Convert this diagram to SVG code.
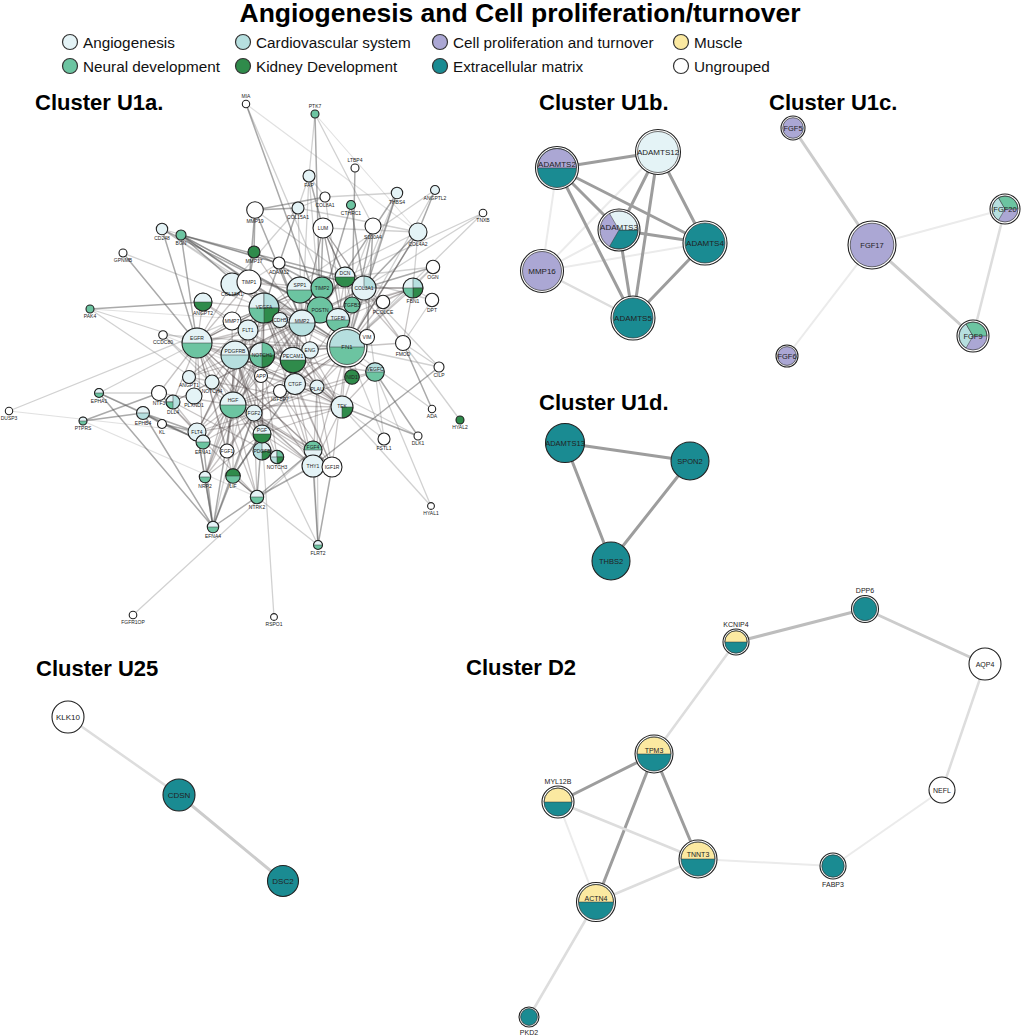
<svg xmlns="http://www.w3.org/2000/svg" width="1026" height="1035" viewBox="0 0 1026 1035">
<style>
text{font-family:"Liberation Sans",Arial,Helvetica,sans-serif;fill:#222}
.ttl{font-size:26.5px;font-weight:bold;text-anchor:middle;fill:#000}
.ct{font-size:22px;font-weight:bold;fill:#000}
.lg{font-size:15.3px;fill:#111}
.l{font-size:5px;text-anchor:middle}
.lm{font-size:8px;text-anchor:middle}
.lc{font-size:7.5px;text-anchor:middle}
.ld{font-size:7px;text-anchor:middle}
.an{fill:#e4f3f6}.cv{fill:#b6dfdf}.cp{fill:#aba7d4}.mu{fill:#fbe9a1}.nd{fill:#6cc4a1}.kd{fill:#2f8b4b}.ec{fill:#1a8b92}.ug{fill:#fff}
.s{stroke:#222;stroke-width:1.1}
.o{fill:none;stroke:#222;stroke-width:1.1}
.oi{stroke:#333;stroke-width:.7}
.nf{fill:none}
.w{stroke:#333;stroke-width:.5}
.lgc{stroke:#333;stroke-width:1.2}
line{stroke-linecap:round}
.k line{stroke:#4a3f3f;stroke-opacity:.3;stroke-width:1.3}
.m line{stroke:#555;stroke-opacity:.5;stroke-width:1.5}
.lt line{stroke:#999;stroke-opacity:.45;stroke-width:1.3}
.f line{stroke:#bbb;stroke-opacity:.45;stroke-width:1.1}
.g9{stroke:#9d9d9d;stroke-width:3}
.gb{stroke:#bdbdbd;stroke-width:3}
.gc{stroke:#cccccc;stroke-width:3}
.gd{stroke:#dddddd;stroke-width:2.5}
.ge{stroke:#ebebeb;stroke-width:2}
</style>
<defs>
<path id="ht" d="M-1 0A1 1 0 0 1 1 0Z" vector-effect="non-scaling-stroke"/>
<path id="q0" d="M0 0H1A1 1 0 0 1 0 1Z" vector-effect="non-scaling-stroke"/>
<path id="q1" d="M0 0V1A1 1 0 0 1-1 0Z" vector-effect="non-scaling-stroke"/>
<path id="q2" d="M0 0H-1A1 1 0 0 1 0-1Z" vector-effect="non-scaling-stroke"/>
<path id="q3" d="M0 0V-1A1 1 0 0 1 1 0Z" vector-effect="non-scaling-stroke"/>
<path id="t0" d="M0 0H1A1 1 0 0 1-.5 .866Z" vector-effect="non-scaling-stroke"/>
<path id="t1" d="M0 0L-.5 .866A1 1 0 0 1-.5-.866Z" vector-effect="non-scaling-stroke"/>
<path id="t2" d="M0 0L-.5-.866A1 1 0 0 1 1 0Z" vector-effect="non-scaling-stroke"/>
</defs>
<rect width="1026" height="1035" fill="#fff"/>
<text class="ttl" x="520" y="22">Angiogenesis and Cell proliferation/turnover</text>
<g id="legend">
<circle cx="70" cy="42" r="7.5" class="an lgc"/><text class="lg" x="83" y="47.5">Angiogenesis</text>
<circle cx="243" cy="42" r="7.5" class="cv lgc"/><text class="lg" x="256" y="47.5">Cardiovascular system</text>
<circle cx="440" cy="42" r="7.5" class="cp lgc"/><text class="lg" x="453" y="47.5">Cell proliferation and turnover</text>
<circle cx="681" cy="42" r="7.5" class="mu lgc"/><text class="lg" x="694" y="47.5">Muscle</text>
<circle cx="70" cy="66" r="7.5" class="nd lgc"/><text class="lg" x="83" y="71.5">Neural development</text>
<circle cx="243" cy="66" r="7.5" class="kd lgc"/><text class="lg" x="256" y="71.5">Kidney Development</text>
<circle cx="440" cy="66" r="7.5" class="ec lgc"/><text class="lg" x="453" y="71.5">Extracellular matrix</text>
<circle cx="681" cy="66" r="7.5" class="ug lgc"/><text class="lg" x="694" y="71.5">Ungrouped</text>
</g>
<g id="cluster-titles">
<text class="ct" x="35" y="110">Cluster U1a.</text>
<text class="ct" x="539" y="110">Cluster U1b.</text>
<text class="ct" x="769" y="110">Cluster U1c.</text>
<text class="ct" x="539" y="410">Cluster U1d.</text>
<text class="ct" x="36" y="676">Cluster U25</text>
<text class="ct" x="466" y="675">Cluster D2</text>
</g>
<g id="connectors">
<g class="f">
<line x1="9" y1="411" x2="197" y2="432"/><line x1="246" y1="104" x2="418" y2="232"/><line x1="315" y1="114" x2="418" y2="232"/><line x1="83" y1="421" x2="257" y2="497"/><line x1="163" y1="335" x2="342" y2="407"/><line x1="90" y1="309" x2="302" y2="323"/>
</g>
<g class="lt">
<line x1="246" y1="104" x2="338" y2="320"/><line x1="315" y1="114" x2="309" y2="176"/><line x1="315" y1="114" x2="373" y2="226"/><line x1="325" y1="197" x2="397" y2="193"/><line x1="325" y1="197" x2="347" y2="347"/><line x1="325" y1="197" x2="298" y2="208"/><line x1="309" y1="176" x2="325" y2="197"/><line x1="309" y1="176" x2="302" y2="323"/><line x1="309" y1="176" x2="298" y2="208"/><line x1="309" y1="176" x2="320" y2="310"/><line x1="162" y1="229" x2="364" y2="288"/><line x1="162" y1="229" x2="347" y2="347"/><line x1="162" y1="229" x2="302" y2="323"/><line x1="181" y1="235" x2="338" y2="320"/><line x1="123" y1="253" x2="302" y2="323"/><line x1="90" y1="309" x2="197" y2="343"/><line x1="90" y1="309" x2="233" y2="405"/><line x1="163" y1="335" x2="347" y2="347"/><line x1="163" y1="335" x2="233" y2="405"/><line x1="163" y1="335" x2="313" y2="466"/><line x1="9" y1="411" x2="264" y2="308"/><line x1="99" y1="393" x2="264" y2="308"/><line x1="99" y1="393" x2="159" y2="393"/><line x1="99" y1="393" x2="203" y2="442"/><line x1="318" y1="545" x2="257" y2="497"/><line x1="318" y1="545" x2="313" y2="450"/><line x1="318" y1="545" x2="317" y2="387"/><line x1="318" y1="545" x2="254" y2="413"/><line x1="274" y1="617" x2="262" y2="434"/><line x1="133" y1="615" x2="313" y2="450"/><line x1="431" y1="506" x2="342" y2="407"/><line x1="431" y1="506" x2="375" y2="372"/><line x1="418" y1="436" x2="262" y2="355"/><line x1="384" y1="439" x2="347" y2="347"/><line x1="384" y1="439" x2="342" y2="407"/><line x1="384" y1="439" x2="364" y2="288"/><line x1="432" y1="409" x2="347" y2="347"/><line x1="460" y1="420" x2="403" y2="343"/><line x1="439" y1="367" x2="403" y2="343"/><line x1="439" y1="367" x2="364" y2="288"/><line x1="439" y1="367" x2="347" y2="347"/><line x1="433" y1="267" x2="413" y2="288"/><line x1="433" y1="267" x2="345" y2="277"/><line x1="433" y1="267" x2="347" y2="347"/><line x1="432" y1="300" x2="413" y2="288"/><line x1="432" y1="300" x2="345" y2="277"/><line x1="432" y1="300" x2="403" y2="343"/><line x1="483" y1="213" x2="347" y2="347"/><line x1="483" y1="213" x2="364" y2="288"/><line x1="483" y1="213" x2="345" y2="277"/><line x1="435" y1="190" x2="347" y2="347"/><line x1="435" y1="190" x2="264" y2="308"/><line x1="397" y1="193" x2="364" y2="288"/><line x1="397" y1="193" x2="352" y2="305"/><line x1="418" y1="232" x2="298" y2="208"/><line x1="418" y1="232" x2="413" y2="288"/><line x1="418" y1="232" x2="264" y2="308"/><line x1="418" y1="232" x2="323" y2="228"/><line x1="373" y1="226" x2="338" y2="320"/><line x1="323" y1="228" x2="364" y2="288"/><line x1="323" y1="228" x2="347" y2="347"/><line x1="323" y1="228" x2="302" y2="323"/><line x1="298" y1="208" x2="232" y2="284"/><line x1="298" y1="208" x2="302" y2="323"/><line x1="255" y1="210" x2="364" y2="288"/><line x1="279" y1="263" x2="249" y2="282"/><line x1="213" y1="527" x2="264" y2="308"/>
</g>
<g class="m">
<line x1="246" y1="104" x2="320" y2="310"/><line x1="315" y1="114" x2="320" y2="310"/><line x1="355" y1="168" x2="352" y2="305"/><line x1="123" y1="253" x2="197" y2="343"/><line x1="90" y1="309" x2="203" y2="302"/><line x1="99" y1="393" x2="143" y2="413"/><line x1="99" y1="393" x2="213" y2="527"/><line x1="83" y1="421" x2="159" y2="393"/><line x1="83" y1="421" x2="143" y2="413"/><line x1="143" y1="413" x2="213" y2="527"/><line x1="143" y1="413" x2="197" y2="432"/><line x1="143" y1="413" x2="162" y2="424"/><line x1="143" y1="413" x2="203" y2="442"/><line x1="162" y1="424" x2="197" y2="432"/><line x1="162" y1="424" x2="227" y2="451"/><line x1="213" y1="527" x2="205" y2="477"/><line x1="213" y1="527" x2="233" y2="476"/><line x1="213" y1="527" x2="257" y2="497"/><line x1="213" y1="527" x2="197" y2="432"/><line x1="213" y1="527" x2="233" y2="405"/><line x1="213" y1="527" x2="254" y2="413"/><line x1="213" y1="527" x2="203" y2="442"/><line x1="233" y1="476" x2="257" y2="497"/><line x1="233" y1="476" x2="262" y2="434"/><line x1="233" y1="476" x2="295" y2="384"/><line x1="257" y1="497" x2="313" y2="466"/><line x1="257" y1="497" x2="313" y2="450"/><line x1="257" y1="497" x2="262" y2="434"/><line x1="318" y1="545" x2="313" y2="466"/><line x1="318" y1="545" x2="332" y2="467"/><line x1="418" y1="436" x2="342" y2="407"/><line x1="418" y1="436" x2="375" y2="372"/><line x1="432" y1="409" x2="403" y2="343"/><line x1="439" y1="367" x2="313" y2="466"/><line x1="433" y1="267" x2="364" y2="288"/><line x1="397" y1="193" x2="347" y2="347"/><line x1="397" y1="193" x2="320" y2="310"/><line x1="435" y1="190" x2="418" y2="232"/><line x1="418" y1="232" x2="347" y2="347"/><line x1="418" y1="232" x2="364" y2="288"/><line x1="373" y1="226" x2="347" y2="347"/><line x1="373" y1="226" x2="367" y2="337"/><line x1="323" y1="228" x2="345" y2="277"/><line x1="323" y1="228" x2="320" y2="310"/><line x1="309" y1="176" x2="323" y2="228"/><line x1="325" y1="197" x2="255" y2="210"/><line x1="298" y1="208" x2="255" y2="210"/><line x1="298" y1="208" x2="264" y2="308"/><line x1="255" y1="210" x2="254" y2="252"/><line x1="255" y1="210" x2="302" y2="323"/><line x1="255" y1="210" x2="249" y2="282"/><line x1="254" y1="252" x2="249" y2="282"/><line x1="254" y1="252" x2="322" y2="288"/><line x1="279" y1="263" x2="302" y2="323"/><line x1="279" y1="263" x2="347" y2="347"/><line x1="181" y1="235" x2="345" y2="277"/><line x1="181" y1="235" x2="320" y2="310"/><line x1="181" y1="235" x2="364" y2="288"/><line x1="181" y1="235" x2="347" y2="347"/><line x1="181" y1="235" x2="264" y2="308"/><line x1="181" y1="235" x2="197" y2="343"/><line x1="181" y1="235" x2="249" y2="282"/><line x1="162" y1="229" x2="197" y2="343"/><line x1="162" y1="229" x2="320" y2="310"/><line x1="351" y1="205" x2="320" y2="310"/><line x1="351" y1="205" x2="364" y2="288"/>
</g>
<g class="k">
<line x1="264" y1="308" x2="248" y2="330"/><line x1="264" y1="308" x2="197" y2="432"/><line x1="264" y1="308" x2="197" y2="343"/><line x1="264" y1="308" x2="235" y2="355"/><line x1="264" y1="308" x2="262" y2="355"/><line x1="264" y1="308" x2="302" y2="323"/><line x1="264" y1="308" x2="347" y2="347"/><line x1="264" y1="308" x2="293" y2="360"/><line x1="264" y1="308" x2="233" y2="405"/><line x1="264" y1="308" x2="254" y2="413"/><line x1="264" y1="308" x2="262" y2="434"/><line x1="264" y1="308" x2="295" y2="384"/><line x1="264" y1="308" x2="342" y2="407"/><line x1="264" y1="308" x2="310" y2="350"/><line x1="264" y1="308" x2="280" y2="320"/><line x1="264" y1="308" x2="300" y2="290"/><line x1="264" y1="308" x2="249" y2="282"/><line x1="264" y1="308" x2="203" y2="302"/><line x1="264" y1="308" x2="189" y2="377"/><line x1="264" y1="308" x2="205" y2="477"/><line x1="264" y1="308" x2="313" y2="466"/><line x1="264" y1="308" x2="375" y2="372"/><line x1="264" y1="308" x2="317" y2="387"/><line x1="264" y1="308" x2="262" y2="451"/><line x1="264" y1="308" x2="332" y2="467"/><line x1="264" y1="308" x2="212" y2="382"/><line x1="264" y1="308" x2="320" y2="310"/><line x1="264" y1="308" x2="322" y2="288"/><line x1="264" y1="308" x2="232" y2="321"/>
<line x1="347" y1="347" x2="338" y2="320"/><line x1="347" y1="347" x2="320" y2="310"/><line x1="347" y1="347" x2="364" y2="288"/><line x1="347" y1="347" x2="345" y2="277"/><line x1="347" y1="347" x2="322" y2="288"/><line x1="347" y1="347" x2="300" y2="290"/><line x1="347" y1="347" x2="302" y2="323"/><line x1="347" y1="347" x2="367" y2="337"/><line x1="347" y1="347" x2="403" y2="343"/><line x1="347" y1="347" x2="413" y2="288"/><line x1="347" y1="347" x2="295" y2="384"/><line x1="347" y1="347" x2="317" y2="387"/><line x1="347" y1="347" x2="313" y2="466"/><line x1="347" y1="347" x2="197" y2="343"/><line x1="347" y1="347" x2="235" y2="355"/><line x1="347" y1="347" x2="249" y2="282"/><line x1="347" y1="347" x2="332" y2="467"/><line x1="347" y1="347" x2="233" y2="405"/><line x1="347" y1="347" x2="310" y2="350"/><line x1="347" y1="347" x2="342" y2="407"/><line x1="347" y1="347" x2="352" y2="377"/><line x1="347" y1="347" x2="232" y2="284"/><line x1="347" y1="347" x2="323" y2="228"/><line x1="347" y1="347" x2="418" y2="232"/><line x1="347" y1="347" x2="254" y2="413"/><line x1="347" y1="347" x2="261" y2="376"/><line x1="347" y1="347" x2="383" y2="302"/><line x1="347" y1="347" x2="352" y2="305"/>
<line x1="302" y1="323" x2="249" y2="282"/><line x1="302" y1="323" x2="322" y2="288"/><line x1="302" y1="323" x2="300" y2="290"/><line x1="302" y1="323" x2="345" y2="277"/><line x1="302" y1="323" x2="364" y2="288"/><line x1="302" y1="323" x2="295" y2="384"/><line x1="302" y1="323" x2="317" y2="387"/><line x1="302" y1="323" x2="232" y2="321"/><line x1="302" y1="323" x2="197" y2="343"/><line x1="302" y1="323" x2="235" y2="355"/><line x1="302" y1="323" x2="293" y2="360"/><line x1="302" y1="323" x2="261" y2="376"/><line x1="302" y1="323" x2="233" y2="405"/><line x1="302" y1="323" x2="254" y2="413"/><line x1="302" y1="323" x2="232" y2="284"/><line x1="302" y1="323" x2="413" y2="288"/><line x1="302" y1="323" x2="323" y2="228"/><line x1="302" y1="323" x2="254" y2="252"/><line x1="302" y1="323" x2="338" y2="320"/><line x1="302" y1="323" x2="280" y2="391"/><line x1="302" y1="323" x2="262" y2="355"/>
<line x1="197" y1="343" x2="233" y2="405"/><line x1="197" y1="343" x2="254" y2="413"/><line x1="197" y1="343" x2="235" y2="355"/><line x1="197" y1="343" x2="159" y2="393"/><line x1="197" y1="343" x2="203" y2="442"/><line x1="197" y1="343" x2="227" y2="451"/><line x1="197" y1="343" x2="313" y2="450"/><line x1="197" y1="343" x2="332" y2="467"/><line x1="197" y1="343" x2="295" y2="384"/><line x1="197" y1="343" x2="317" y2="387"/><line x1="197" y1="343" x2="261" y2="376"/><line x1="197" y1="343" x2="262" y2="355"/><line x1="197" y1="343" x2="249" y2="282"/><line x1="197" y1="343" x2="300" y2="290"/><line x1="197" y1="343" x2="203" y2="302"/><line x1="197" y1="343" x2="194" y2="396"/><line x1="197" y1="343" x2="173" y2="402"/><line x1="197" y1="343" x2="257" y2="497"/><line x1="197" y1="343" x2="233" y2="476"/><line x1="197" y1="343" x2="262" y2="434"/><line x1="197" y1="343" x2="248" y2="330"/><line x1="197" y1="343" x2="232" y2="321"/><line x1="197" y1="343" x2="232" y2="284"/>
<line x1="235" y1="355" x2="262" y2="451"/><line x1="235" y1="355" x2="262" y2="434"/><line x1="235" y1="355" x2="254" y2="413"/><line x1="235" y1="355" x2="233" y2="405"/><line x1="235" y1="355" x2="248" y2="330"/><line x1="235" y1="355" x2="197" y2="432"/><line x1="235" y1="355" x2="295" y2="384"/><line x1="235" y1="355" x2="313" y2="466"/><line x1="235" y1="355" x2="277" y2="457"/><line x1="235" y1="355" x2="262" y2="355"/><line x1="235" y1="355" x2="293" y2="360"/><line x1="235" y1="355" x2="342" y2="407"/><line x1="235" y1="355" x2="189" y2="377"/><line x1="235" y1="355" x2="364" y2="288"/><line x1="235" y1="355" x2="320" y2="310"/><line x1="235" y1="355" x2="227" y2="451"/><line x1="235" y1="355" x2="280" y2="391"/><line x1="235" y1="355" x2="300" y2="290"/>
<line x1="233" y1="405" x2="254" y2="413"/><line x1="233" y1="405" x2="227" y2="451"/><line x1="233" y1="405" x2="313" y2="450"/><line x1="233" y1="405" x2="262" y2="434"/><line x1="233" y1="405" x2="262" y2="451"/><line x1="233" y1="405" x2="313" y2="466"/><line x1="233" y1="405" x2="332" y2="467"/><line x1="233" y1="405" x2="295" y2="384"/><line x1="233" y1="405" x2="317" y2="387"/><line x1="233" y1="405" x2="257" y2="497"/><line x1="233" y1="405" x2="233" y2="476"/><line x1="233" y1="405" x2="342" y2="407"/><line x1="233" y1="405" x2="159" y2="393"/><line x1="233" y1="405" x2="203" y2="442"/><line x1="233" y1="405" x2="197" y2="432"/><line x1="233" y1="405" x2="205" y2="477"/><line x1="233" y1="405" x2="262" y2="355"/><line x1="233" y1="405" x2="248" y2="330"/><line x1="233" y1="405" x2="232" y2="321"/><line x1="233" y1="405" x2="261" y2="376"/>
<line x1="262" y1="355" x2="277" y2="457"/><line x1="262" y1="355" x2="212" y2="382"/><line x1="262" y1="355" x2="173" y2="402"/><line x1="262" y1="355" x2="293" y2="360"/><line x1="262" y1="355" x2="280" y2="320"/><line x1="262" y1="355" x2="197" y2="432"/><line x1="262" y1="355" x2="248" y2="330"/><line x1="262" y1="355" x2="203" y2="442"/><line x1="262" y1="355" x2="189" y2="377"/><line x1="262" y1="355" x2="342" y2="407"/><line x1="262" y1="355" x2="205" y2="477"/><line x1="262" y1="355" x2="261" y2="376"/><line x1="262" y1="355" x2="310" y2="350"/>
<line x1="342" y1="407" x2="189" y2="377"/><line x1="342" y1="407" x2="203" y2="302"/><line x1="342" y1="407" x2="293" y2="360"/><line x1="342" y1="407" x2="310" y2="350"/><line x1="342" y1="407" x2="280" y2="320"/><line x1="342" y1="407" x2="248" y2="330"/><line x1="342" y1="407" x2="197" y2="432"/><line x1="342" y1="407" x2="375" y2="372"/><line x1="342" y1="407" x2="352" y2="377"/><line x1="342" y1="407" x2="262" y2="434"/><line x1="342" y1="407" x2="313" y2="466"/><line x1="342" y1="407" x2="295" y2="384"/><line x1="342" y1="407" x2="317" y2="387"/>
<line x1="248" y1="330" x2="197" y2="432"/><line x1="248" y1="330" x2="262" y2="434"/><line x1="248" y1="330" x2="205" y2="477"/><line x1="248" y1="330" x2="293" y2="360"/><line x1="248" y1="330" x2="280" y2="320"/><line x1="248" y1="330" x2="203" y2="302"/><line x1="197" y1="432" x2="375" y2="372"/><line x1="197" y1="432" x2="205" y2="477"/><line x1="197" y1="432" x2="159" y2="393"/><line x1="197" y1="432" x2="173" y2="402"/><line x1="262" y1="434" x2="205" y2="477"/><line x1="262" y1="434" x2="254" y2="413"/><line x1="262" y1="434" x2="313" y2="466"/><line x1="254" y1="413" x2="227" y2="451"/><line x1="254" y1="413" x2="313" y2="450"/><line x1="254" y1="413" x2="313" y2="466"/><line x1="254" y1="413" x2="332" y2="467"/><line x1="254" y1="413" x2="295" y2="384"/><line x1="254" y1="413" x2="317" y2="387"/><line x1="254" y1="413" x2="257" y2="497"/><line x1="254" y1="413" x2="233" y2="476"/><line x1="254" y1="413" x2="205" y2="477"/><line x1="254" y1="413" x2="203" y2="442"/><line x1="295" y1="384" x2="317" y2="387"/><line x1="295" y1="384" x2="313" y2="466"/><line x1="295" y1="384" x2="332" y2="467"/><line x1="295" y1="384" x2="249" y2="282"/><line x1="295" y1="384" x2="300" y2="290"/><line x1="295" y1="384" x2="320" y2="310"/><line x1="295" y1="384" x2="338" y2="320"/><line x1="317" y1="387" x2="332" y2="467"/><line x1="317" y1="387" x2="313" y2="466"/><line x1="317" y1="387" x2="249" y2="282"/><line x1="300" y1="290" x2="249" y2="282"/><line x1="300" y1="290" x2="320" y2="310"/><line x1="300" y1="290" x2="322" y2="288"/><line x1="320" y1="310" x2="322" y2="288"/><line x1="320" y1="310" x2="338" y2="320"/><line x1="320" y1="310" x2="345" y2="277"/><line x1="320" y1="310" x2="364" y2="288"/><line x1="345" y1="277" x2="364" y2="288"/><line x1="345" y1="277" x2="338" y2="320"/><line x1="364" y1="288" x2="338" y2="320"/><line x1="364" y1="288" x2="413" y2="288"/><line x1="364" y1="288" x2="323" y2="228"/><line x1="345" y1="277" x2="323" y2="228"/><line x1="249" y1="282" x2="322" y2="288"/><line x1="249" y1="282" x2="232" y2="321"/><line x1="293" y1="360" x2="310" y2="350"/><line x1="293" y1="360" x2="280" y2="320"/><line x1="310" y1="350" x2="280" y2="320"/><line x1="277" y1="457" x2="262" y2="451"/><line x1="277" y1="457" x2="212" y2="382"/><line x1="173" y1="402" x2="212" y2="382"/><line x1="173" y1="402" x2="277" y2="457"/><line x1="313" y1="466" x2="332" y2="467"/><line x1="313" y1="450" x2="332" y2="467"/><line x1="257" y1="497" x2="159" y2="393"/><line x1="257" y1="497" x2="233" y2="476"/><line x1="261" y1="376" x2="295" y2="384"/><line x1="261" y1="376" x2="280" y2="391"/><line x1="280" y1="391" x2="332" y2="467"/><line x1="280" y1="391" x2="313" y2="466"/><line x1="375" y1="372" x2="352" y2="377"/><line x1="375" y1="372" x2="293" y2="360"/><line x1="352" y1="377" x2="317" y2="387"/><line x1="403" y1="343" x2="345" y2="277"/><line x1="403" y1="343" x2="364" y2="288"/><line x1="403" y1="343" x2="413" y2="288"/><line x1="367" y1="337" x2="338" y2="320"/><line x1="367" y1="337" x2="295" y2="384"/><line x1="367" y1="337" x2="317" y2="387"/><line x1="383" y1="302" x2="364" y2="288"/><line x1="383" y1="302" x2="413" y2="288"/><line x1="352" y1="305" x2="320" y2="310"/><line x1="352" y1="305" x2="413" y2="288"/><line x1="352" y1="305" x2="338" y2="320"/><line x1="352" y1="305" x2="345" y2="277"/><line x1="413" y1="288" x2="338" y2="320"/><line x1="413" y1="288" x2="322" y2="288"/>
</g>
<g id="edges-u1b">
<line class="ge" x1="557" y1="168" x2="542" y2="271"/><line class="ge" x1="658" y1="152" x2="542" y2="271"/><line class="ge" x1="619" y1="230" x2="542" y2="271"/><line class="ge" x1="705" y1="243" x2="542" y2="271"/><line class="gd" x1="542" y1="271" x2="633" y2="318"/>
<line class="g9" x1="557" y1="168" x2="658" y2="152"/><line class="g9" x1="557" y1="168" x2="619" y2="230"/><line class="g9" x1="557" y1="168" x2="705" y2="243"/><line class="g9" x1="557" y1="168" x2="633" y2="318"/><line class="g9" x1="658" y1="152" x2="619" y2="230"/><line class="g9" x1="658" y1="152" x2="705" y2="243"/><line class="g9" x1="658" y1="152" x2="633" y2="318"/><line class="g9" x1="619" y1="230" x2="705" y2="243"/><line class="g9" x1="619" y1="230" x2="633" y2="318"/><line class="g9" x1="705" y1="243" x2="633" y2="318"/>
</g>
<g id="edges-u1c">
<line class="gc" x1="793" y1="128" x2="872" y2="245"/><line class="ge" x1="872" y1="245" x2="1005" y2="209"/><line class="gc" x1="872" y1="245" x2="973" y2="336"/><line class="ge" x1="872" y1="245" x2="787" y2="356"/><line class="gd" x1="1005" y1="209" x2="973" y2="336"/>
</g>
<g id="edges-u1d">
<line class="g9" x1="565" y1="443" x2="690" y2="461"/><line class="g9" x1="565" y1="443" x2="611" y2="561"/><line class="g9" x1="690" y1="461" x2="611" y2="561"/>
</g>
<g id="edges-u25">
<line class="gd" x1="68" y1="717" x2="179" y2="795"/><line class="gc" x1="179" y1="795" x2="283" y2="881"/>
</g>
<g id="edges-d2">
<line class="gb" x1="736" y1="642" x2="865" y2="609"/><line class="gc" x1="865" y1="609" x2="985" y2="664"/><line class="gd" x1="985" y1="664" x2="942" y2="790"/><line class="ge" x1="942" y1="790" x2="833" y2="866"/><line class="gd" x1="736" y1="642" x2="654" y2="754"/><line class="g9" x1="654" y1="754" x2="558" y2="802"/><line class="g9" x1="654" y1="754" x2="698" y2="859"/><line class="g9" x1="654" y1="754" x2="596" y2="902"/><line class="gd" x1="558" y1="802" x2="698" y2="859"/><line class="ge" x1="558" y1="802" x2="596" y2="902"/><line class="gd" x1="698" y1="859" x2="596" y2="902"/><line class="ge" x1="698" y1="859" x2="833" y2="866"/><line class="gd" x1="596" y1="902" x2="529" y2="1017"/>
</g>
</g>
<g id="nodes">
<g id="n-MIA" transform="translate(246,104)"><circle r="3.7" class="ug s"/><text class="l" y="-6">MIA</text></g>
<g id="n-PTK7" transform="translate(315,114)"><circle r="4" class="nd s"/><text class="l" y="-6">PTK7</text></g>
<g id="n-LTBP4" transform="translate(355,168)"><circle r="4" class="ug s"/><text class="l" y="-6">LTBP4</text></g>
<g id="n-FAP" transform="translate(309,176)"><circle r="6" class="an s"/><text class="l" y="11">FAP</text></g>
<g id="n-COL8A1" transform="translate(325,197)"><circle r="5" class="ug s"/><text class="l" y="10">COL8A1</text></g>
<g id="n-CTHRC1" transform="translate(351,205)"><circle r="4.5" class="nd s"/><text class="l" y="9.5">CTHRC1</text></g>
<g id="n-THBS4" transform="translate(397,193)"><circle r="5.7" class="an s"/><text class="l" y="10.5">THBS4</text></g>
<g id="n-ANGPTL2" transform="translate(435,190)"><circle r="4.5" class="an s"/><text class="l" y="9.5">ANGPTL2</text></g>
<g id="n-TNXB" transform="translate(483,213)"><circle r="3.8" class="ug s"/><text class="l" y="9">TNXB</text></g>
<g id="n-MMP19" transform="translate(255,210)"><circle r="8.3" class="ug s"/><text class="l" y="13">MMP19</text></g>
<g id="n-COL15A1" transform="translate(298,208)"><circle r="6" class="an s"/><text class="l" y="11">COL15A1</text></g>
<g id="n-LUM" transform="translate(323,228)"><circle r="10" class="ug s"/><text class="l" y="1.8">LUM</text></g>
<g id="n-S100A4" transform="translate(373,226)"><circle r="8" class="ug s"/><text class="l" y="13">S100A4</text></g>
<g id="n-COL4A2" transform="translate(418,232)"><circle r="9" class="an s"/><text class="l" y="14">COL4A2</text></g>
<g id="n-CD248" transform="translate(162,229)"><circle r="5.7" class="an s"/><text class="l" y="10.5">CD248</text></g>
<g id="n-BGN" transform="translate(181,235)"><circle r="5" class="nd s"/><text class="l" y="10">BGN</text></g>
<g id="n-GPNMB" transform="translate(123,253)"><circle r="4" class="ug s"/><text class="l" y="9">GPNMB</text></g>
<g id="n-MMP17" transform="translate(254,252)"><circle r="6" class="kd s"/><text class="l" y="11">MMP17</text></g>
<g id="n-ADAM12" transform="translate(279,263)"><circle r="6" class="ug s"/><text class="l" y="11">ADAM12</text></g>
<g id="n-OGN" transform="translate(433,267)"><circle r="6.7" class="ug s"/><text class="l" y="11.5">OGN</text></g>
<g id="n-DPT" transform="translate(432,300)"><circle r="6.7" class="ug s"/><text class="l" y="11.5">DPT</text></g>
<g id="n-PAK4" transform="translate(90,309)"><circle r="4" class="nd s"/><text class="l" y="9">PAK4</text></g>
<g id="n-CCDC80" transform="translate(163,335)"><circle r="4.3" class="ug s"/><text class="l" y="9">CCDC80</text></g>
<g id="n-CILP" transform="translate(439,367)"><circle r="5" class="ug s"/><text class="l" y="10">CILP</text></g>
<g id="n-ADA" transform="translate(432,409)"><circle r="3.7" class="ug s"/><text class="l" y="9">ADA</text></g>
<g id="n-HYAL2" transform="translate(460,420)"><circle r="4" class="kd s"/><text class="l" y="9">HYAL2</text></g>
<g id="n-DLK1" transform="translate(418,436)"><circle r="4" class="ug s"/><text class="l" y="9">DLK1</text></g>
<g id="n-FSTL1" transform="translate(384,439)"><circle r="6" class="ug s"/><text class="l" y="11">FSTL1</text></g>
<g id="n-DUSP3" transform="translate(9,411)"><circle r="3.7" class="ug s"/><text class="l" y="9">DUSP3</text></g>
<g id="n-EPHA1" transform="translate(99,393)"><circle r="4.5" class="nd"/><use href="#ht" transform="scale(4.5)" class="an w"/><circle r="4.5" class="o"/><text class="l" y="9.5">EPHA1</text></g>
<g id="n-PTPRS" transform="translate(83,421)"><circle r="4" class="nd"/><use href="#ht" transform="scale(4)" class="an w"/><circle r="4" class="o"/><text class="l" y="9">PTPRS</text></g>
<g id="n-EPHB4" transform="translate(143,413)"><circle r="6.5" class="cv"/><use href="#ht" transform="scale(6.5)" class="an w"/><circle r="6.5" class="o"/><text class="l" y="11.5">EPHB4</text></g>
<g id="n-KL" transform="translate(162,424)"><circle r="4.5" class="ug s"/><text class="l" y="9.5">KL</text></g>
<g id="n-HYAL1" transform="translate(431,506)"><circle r="3.4" class="ug s"/><text class="l" y="8.5">HYAL1</text></g>
<g id="n-FLRT2" transform="translate(318,545)"><circle r="4.5" class="nd"/><use href="#ht" transform="scale(4.5)" class="an w"/><circle r="4.5" class="o"/><text class="l" y="9.5">FLRT2</text></g>
<g id="n-EFNA4" transform="translate(213,527)"><circle r="5.7" class="nd"/><use href="#ht" transform="scale(5.7)" class="an w"/><circle r="5.7" class="o"/><text class="l" y="10.5">EFNA4</text></g>
<g id="n-RSPO1" transform="translate(274,617)"><circle r="3.4" class="ug s"/><text class="l" y="8.5">RSPO1</text></g>
<g id="n-FGFR1OP" transform="translate(133,615)"><circle r="3.8" class="ug s"/><text class="l" y="9">FGFR1OP</text></g>
<g id="n-NRP2" transform="translate(205,477)"><circle r="5.7" class="nd"/><use href="#ht" transform="scale(5.7)" class="an w"/><circle r="5.7" class="o"/><text class="l" y="10.5">NRP2</text></g>
<g id="n-LIF" transform="translate(233,476)"><circle r="7.3" class="nd"/><use href="#ht" transform="scale(7.3)" class="kd w"/><circle r="7.3" class="o"/><text class="l" y="12">LIF</text></g>
<g id="n-NTRK2" transform="translate(257,497)"><circle r="6.7" class="nd"/><use href="#ht" transform="scale(6.7)" class="an w"/><circle r="6.7" class="o"/><text class="l" y="11.5">NTRK2</text></g>
<g id="n-COL18A1" transform="translate(232,284)"><circle r="11" class="an s"/><text class="l" y="12">COL18A1</text></g>
<g id="n-TIMP1" transform="translate(249,282)"><circle r="12" class="ug s"/><text class="l" y="1.8">TIMP1</text></g>
<g id="n-ANGPT2" transform="translate(203,302)"><circle r="9" class="kd"/><use href="#ht" transform="scale(9)" class="an w"/><circle r="9" class="o"/><text class="l" y="13">ANGPT2</text></g>
<g id="n-MMP7" transform="translate(232,321)"><circle r="9" class="ug s"/><text class="l" y="1.8">MMP7</text></g>
<g id="n-FLT1" transform="translate(248,330)"><circle r="10" class="an s"/><text class="l" y="1.8">FLT1</text></g>
<g id="n-VEGFA" transform="translate(264,308)"><circle r="15" class="nd"/><use href="#q2" transform="scale(15)" class="an w"/><use href="#q3" transform="scale(15)" class="cv w"/><use href="#q0" transform="scale(15)" class="kd w"/><circle r="15" class="o"/><text class="l" y="1">VEGFA</text></g>
<g id="n-EGFR" transform="translate(197,343)"><circle r="15" class="nd"/><use href="#ht" transform="scale(15)" class="an w"/><circle r="15" class="o"/><text class="l" y="-3">EGFR</text></g>
<g id="n-PDGFRB" transform="translate(235,355)"><circle r="14" class="cv"/><use href="#ht" transform="scale(14)" class="an w"/><circle r="14" class="o"/><text class="l" y="-2">PDGFRB</text></g>
<g id="n-NOTCH1" transform="translate(262,355)"><circle r="12.5" class="nd"/><use href="#q2" transform="scale(12.5)" class="an w"/><use href="#q0" transform="scale(12.5)" class="kd w"/><circle r="12.5" class="o"/><text class="l" y="1.8">NOTCH1</text></g>
<g id="n-CDH5" transform="translate(280,320)"><circle r="7.5" class="an s"/><text class="l" y="1.8">CDH5</text></g>
<g id="n-SPP1" transform="translate(300,290)"><circle r="13" class="nd"/><use href="#ht" transform="scale(13)" class="an w"/><circle r="13" class="o"/><text class="l" y="-3">SPP1</text></g>
<g id="n-TIMP2" transform="translate(322,288)"><circle r="11" class="nd s"/><text class="l" y="1.8">TIMP2</text></g>
<g id="n-DCN" transform="translate(345,277)"><circle r="10" class="kd"/><use href="#ht" transform="scale(10)" class="an w"/><circle r="10" class="o"/><text class="l" y="-2">DCN</text></g>
<g id="n-COL3A1" transform="translate(364,288)"><circle r="12" class="an"/><use href="#q3" transform="scale(12)" class="cv w"/><circle r="12" class="o"/><text class="l" y="1.8">COL3A1</text></g>
<g id="n-FBN1" transform="translate(413,288)"><circle r="10" class="an"/><use href="#q3" transform="scale(10)" class="cv w"/><use href="#q0" transform="scale(10)" class="kd w"/><use href="#q1" transform="scale(10)" class="nd w"/><circle r="10" class="o"/><text class="l" y="15">FBN1</text></g>
<g id="n-POSTN" transform="translate(320,310)"><circle r="13" class="nd s"/><text class="l" y="1.8">POSTN</text></g>
<g id="n-TGFB3" transform="translate(352,305)"><circle r="8" class="nd s"/><text class="l" y="1.8">TGFB3</text></g>
<g id="n-PCOLCE" transform="translate(383,302)"><circle r="6.7" class="ug s"/><text class="l" y="11.5">PCOLCE</text></g>
<g id="n-MMP2" transform="translate(302,323)"><circle r="13" class="cv"/><use href="#ht" transform="scale(13)" class="an w"/><circle r="13" class="o"/><text class="l" y="0">MMP2</text></g>
<g id="n-TGFBI" transform="translate(338,320)"><circle r="11.5" class="nd"/><use href="#ht" transform="scale(11.5)" class="an w"/><circle r="11.5" class="o"/><text class="l" y="0">TGFBI</text></g>
<g id="n-FN1" transform="translate(347,347)"><circle r="20" class="ug s"/><circle r="17.5" class="nd"/><use href="#ht" transform="scale(17.5)" class="cv w"/><circle r="17.5" class="oi nf"/><text class="l" y="2.2" style="font-size:6px">FN1</text></g>
<g id="n-VIM" transform="translate(367,337)"><circle r="7.5" class="ug s"/><text class="l" y="1.8">VIM</text></g>
<g id="n-FMOD" transform="translate(403,343)"><circle r="7.5" class="ug s"/><text class="l" y="12.5">FMOD</text></g>
<g id="n-ENG" transform="translate(310,350)"><circle r="8.3" class="an s"/><text class="l" y="1.8">ENG</text></g>
<g id="n-PECAM1" transform="translate(293,360)"><circle r="12.7" class="kd"/><use href="#ht" transform="scale(12.7)" class="an w"/><circle r="12.7" class="o"/><text class="l" y="-2">PECAM1</text></g>
<g id="n-APP" transform="translate(261,376)"><circle r="6.5" class="ug s"/><text class="l" y="1.8">APP</text></g>
<g id="n-IGFBP7" transform="translate(280,391)"><circle r="6.5" class="ug s"/><text class="l" y="10">IGFBP7</text></g>
<g id="n-CTGF" transform="translate(295,384)"><circle r="10.5" class="an s"/><text class="l" y="1.8">CTGF</text></g>
<g id="n-PLAU" transform="translate(317,387)"><circle r="7" class="an s"/><text class="l" y="4">PLAU</text></g>
<g id="n-NID1" transform="translate(352,377)"><circle r="7.3" class="kd s"/><text class="l" y="1.8">NID1</text></g>
<g id="n-VEGFC" transform="translate(375,372)"><circle r="9.3" class="nd"/><use href="#ht" transform="scale(9.3)" class="cv w"/><circle r="9.3" class="o"/><text class="l" y="-1">VEGFC</text></g>
<g id="n-TEK" transform="translate(342,407)"><circle r="11" class="an"/><use href="#q0" transform="scale(11)" class="kd w"/><circle r="11" class="o"/><text class="l" y="1">TEK</text></g>
<g id="n-ANGPT1" transform="translate(189,377)"><circle r="6.5" class="an s"/><text class="l" y="10">ANGPT1</text></g>
<g id="n-NOTCH4" transform="translate(212,382)"><circle r="7" class="an s"/><text class="l" y="11">NOTCH4</text></g>
<g id="n-NTF3" transform="translate(159,393)"><circle r="7.5" class="ug s"/><text class="l" y="12">NTF3</text></g>
<g id="n-DLL4" transform="translate(173,402)"><circle r="7" class="cv"/><use href="#q2" transform="scale(7)" class="an w"/><use href="#q1" transform="scale(7)" class="nd w"/><circle r="7" class="o"/><text class="l" y="11.5">DLL4</text></g>
<g id="n-PLXND1" transform="translate(194,396)"><circle r="8" class="an s"/><text class="l" y="11">PLXND1</text></g>
<g id="n-HGF" transform="translate(233,405)"><circle r="13" class="nd"/><use href="#ht" transform="scale(13)" class="an w"/><circle r="13" class="o"/><text class="l" y="-3">HGF</text></g>
<g id="n-FGF2" transform="translate(254,413)"><circle r="8" class="an s"/><text class="l" y="1.8">FGF2</text></g>
<g id="n-FLT4" transform="translate(197,432)"><circle r="9" class="an s"/><text class="l" y="1.8">FLT4</text></g>
<g id="n-EFNA1" transform="translate(203,442)"><circle r="7" class="nd"/><use href="#ht" transform="scale(7)" class="an w"/><circle r="7" class="o"/><text class="l" y="11.5">EFNA1</text></g>
<g id="n-FGF1" transform="translate(227,451)"><circle r="7" class="ug s"/><text class="l" y="1.8">FGF1</text></g>
<g id="n-PDGFB" transform="translate(262,451)"><circle r="9" class="cv"/><use href="#q3" transform="scale(9)" class="an w"/><use href="#q0" transform="scale(9)" class="kd w"/><circle r="9" class="o"/><text class="l" y="2">PDGFB</text></g>
<g id="n-PGF" transform="translate(262,434)"><circle r="9" class="kd"/><use href="#ht" transform="scale(9)" class="an w"/><circle r="9" class="o"/><text class="l" y="-2">PGF</text></g>
<g id="n-NOTCH3" transform="translate(277,457)"><circle r="6.7" class="cv"/><use href="#q2" transform="scale(6.7)" class="an w"/><use href="#q3" transform="scale(6.7)" class="nd w"/><use href="#q0" transform="scale(6.7)" class="kd w"/><circle r="6.7" class="o"/><text class="l" y="11.5">NOTCH3</text></g>
<g id="n-FGF4" transform="translate(313,450)"><circle r="9" class="an"/><use href="#ht" transform="scale(9)" class="nd w"/><circle r="9" class="o"/><text class="l" y="-1.5">FGF4</text></g>
<g id="n-THY1" transform="translate(313,466)"><circle r="11" class="an s"/><text class="l" y="1.8">THY1</text></g>
<g id="n-IGF1R" transform="translate(332,467)"><circle r="10" class="ug s"/><text class="l" y="1.8">IGF1R</text></g>

<g id="n-ADAMTS2" transform="translate(557,168)"><circle r="21.5" class="ug s"/><circle r="19.5" class="ec"/><use href="#ht" transform="scale(19.5)" class="cp w"/><circle r="19.5" class="oi nf"/><text class="lm" y="-1.5">ADAMTS2</text></g>
<g id="n-ADAMTS12" transform="translate(658,152)"><circle r="22.5" class="ug s"/><circle r="20.5" class="an oi"/><text class="lm" y="3">ADAMTS12</text></g>
<g id="n-ADAMTS3" transform="translate(619,230)"><circle r="21" class="ug s"/><circle r="19" class="cp"/><use href="#t0" transform="scale(19)" class="ec w"/><use href="#t2" transform="scale(19)" class="an w"/><circle r="19" class="oi nf"/><text class="lm" y="0">ADAMTS3</text></g>
<g id="n-ADAMTS4" transform="translate(705,243)"><circle r="22" class="ug s"/><circle r="20" class="ec oi"/><text class="lm" y="3">ADAMTS4</text></g>
<g id="n-MMP16" transform="translate(542,271)"><circle r="21.5" class="ug s"/><circle r="19.5" class="cp oi"/><text class="lm" y="3">MMP16</text></g>
<g id="n-ADAMTS5" transform="translate(633,318)"><circle r="22" class="ug s"/><circle r="20" class="ec oi"/><text class="lm" y="3">ADAMTS5</text></g>

<g id="n-FGF5" transform="translate(793,128)"><circle r="12" class="ug s"/><circle r="10.3" class="cp oi"/><text class="lc" y="2.7">FGF5</text></g>
<g id="n-FGF17" transform="translate(872,245)"><circle r="24" class="ug s"/><circle r="21.8" class="cp oi"/><text class="lc" y="2.7">FGF17</text></g>
<g id="n-FGF20" transform="translate(1005,209)"><circle r="15" class="ug s"/><circle r="13" class="cp"/><use href="#t1" transform="scale(13)" class="cv w"/><use href="#t2" transform="scale(13)" class="nd w"/><circle r="13" class="oi nf"/><text class="lc" y="2.7">FGF20</text></g>
<g id="n-FGF9" transform="translate(973,336)"><circle r="16" class="ug s"/><circle r="14" class="cp"/><use href="#t1" transform="scale(14)" class="cv w"/><use href="#t2" transform="scale(14)" class="nd w"/><circle r="14" class="oi nf"/><text class="lc" y="2.7">FGF9</text></g>
<g id="n-FGF6" transform="translate(787,356)"><circle r="11" class="ug s"/><circle r="9.4" class="cp oi"/><text class="lc" y="2.7">FGF6</text></g>

<g id="n-ADAMTS13" transform="translate(565,443)"><circle r="19.5" class="ec s"/><text class="lc" y="2.7">ADAMTS13</text></g>
<g id="n-SPON2" transform="translate(690,461)"><circle r="19" class="ec s"/><text class="lc" y="2.7">SPON2</text></g>
<g id="n-THBS2" transform="translate(611,561)"><circle r="19" class="ec s"/><text class="lc" y="2.7">THBS2</text></g>

<g id="n-KLK10" transform="translate(68,717)"><circle r="16" class="ug s"/><text class="lm" y="3">KLK10</text></g>
<g id="n-CDSN" transform="translate(179,795)"><circle r="16" class="ec s"/><text class="lm" y="3">CDSN</text></g>
<g id="n-DSC2" transform="translate(283,881)"><circle r="15.5" class="ec s"/><text class="lm" y="3">DSC2</text></g>

<g id="n-DPP6" transform="translate(865,609)"><circle r="13.5" class="ug s"/><circle r="11.7" class="ec oi"/><text class="ld" y="-16">DPP6</text></g>
<g id="n-KCNIP4" transform="translate(736,642)"><circle r="13" class="ug s"/><circle r="11.2" class="ec"/><use href="#ht" transform="scale(11.2)" class="mu w"/><circle r="11.2" class="oi nf"/><text class="ld" y="-15.5">KCNIP4</text></g>
<g id="n-AQP4" transform="translate(985,664)"><circle r="16" class="ug s"/><text class="ld" y="2.5">AQP4</text></g>
<g id="n-NEFL" transform="translate(942,790)"><circle r="13" class="ug s"/><text class="ld" y="2.5">NEFL</text></g>
<g id="n-TPM3" transform="translate(654,754)"><circle r="19" class="ug s"/><circle r="17" class="ec"/><use href="#ht" transform="scale(17)" class="mu w"/><circle r="17" class="oi nf"/><text class="ld" y="-1">TPM3</text></g>
<g id="n-MYL12B" transform="translate(558,802)"><circle r="16" class="ug s"/><circle r="14" class="ec"/><use href="#ht" transform="scale(14)" class="mu w"/><circle r="14" class="oi nf"/><text class="ld" y="-18.5">MYL12B</text></g>
<g id="n-TNNT3" transform="translate(698,859)"><circle r="19" class="ug s"/><circle r="17" class="ec"/><use href="#ht" transform="scale(17)" class="mu w"/><circle r="17" class="oi nf"/><text class="ld" y="-1.8">TNNT3</text></g>
<g id="n-FABP3" transform="translate(833,866)"><circle r="13" class="ug s"/><circle r="11.2" class="ec oi"/><text class="ld" y="20.5">FABP3</text></g>
<g id="n-ACTN4" transform="translate(596,902)"><circle r="19.5" class="ug s"/><circle r="17.5" class="ec"/><use href="#ht" transform="scale(17.5)" class="mu w"/><circle r="17.5" class="oi nf"/><text class="ld" y="-1">ACTN4</text></g>
<g id="n-PKD2" transform="translate(529,1017)"><circle r="10" class="ug s"/><circle r="8.4" class="ec oi"/><text class="ld" y="17.5">PKD2</text></g>
</g>
</svg>
